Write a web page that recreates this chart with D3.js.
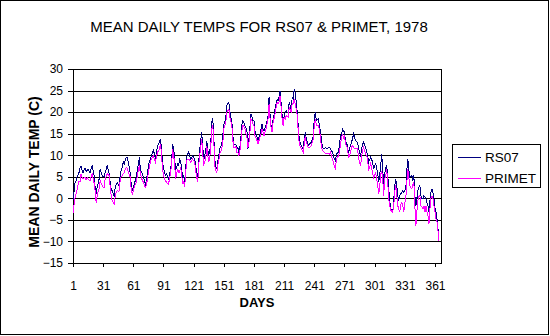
<!DOCTYPE html>
<html><head><meta charset="utf-8">
<script src="https://cdn.jsdelivr.net/npm/d3@7"></script>
<style>
body{margin:0;background:#fff}
svg{display:block}
text{font-family:"Liberation Sans",Arial,sans-serif;fill:#000}
</style>
</head><body>
<svg id="chart" width="550" height="336"></svg>
<script>
const chartTitle = "MEAN DAILY TEMPS FOR RS07 & PRIMET, 1978";
const xTitle = "DAYS";
const yTitle = "MEAN DAILY TEMP (C)";
const seriesNames = ["RS07", "PRIMET"];
const seriesColors = ["#000080", "#FF00FF"];
const xTickLabels = [1, 31, 61, 91, 121, 151, 181, 211, 241, 271, 301, 331, 361];
const yTickValues = [-15, -10, -5, 0, 5, 10, 15, 20, 25, 30];

const rs07 = [
-0.5,1.5,3.5,4.0,5.0,5.5,6.0,7.0,7.4,6.5,
6.0,6.5,7.0,6.2,6.5,6.8,6.3,6.0,6.8,7.6,
6.5,5.3,2.7,1.0,2.6,3.5,4.5,6.8,6.0,5.3,
5.0,5.1,6.0,6.8,7.6,6.5,5.7,3.7,2.0,1.8,
1.0,0.6,2.6,3.3,3.7,3.3,2.9,5.6,6.5,7.2,
8.4,7.7,9.1,9.5,9.5,8.4,7.0,5.7,3.0,1.8,
2.6,3.3,4.2,4.9,6.8,8.0,9.5,6.8,6.2,5.7,
5.0,4.1,3.3,4.1,5.8,7.6,8.5,9.1,9.9,10.5,
11.5,10.0,9.1,10.3,12.2,12.6,13.0,13.8,11.5,8.4,
7.0,6.0,5.3,5.7,5.0,4.5,5.5,6.8,8.4,12.6,
11.5,9.9,6.4,7.2,8.0,7.6,9.1,8.7,7.2,4.5,
5.5,3.7,6.8,9.5,10.3,10.7,9.9,9.1,9.5,9.9,
9.5,9.1,7.5,6.4,4.5,8.4,11.0,13.4,15.3,12.2,
8.7,9.9,11.1,13.4,11.5,9.9,11.0,12.6,17.6,18.6,
14.5,9.1,7.5,6.8,8.4,10.0,11.5,12.0,12.6,14.5,
17.2,17.8,18.8,21.5,21.9,22.3,20.3,18.8,17.6,14.5,
12.6,12.4,12.4,11.5,11.8,10.3,12.0,14.2,17.2,18.0,
17.5,16.9,16.3,15.7,11.5,13.8,16.5,19.6,19.0,18.0,
18.0,15.7,15.0,14.2,13.4,14.2,14.9,16.0,17.2,16.1,
15.7,16.3,16.9,18.0,19.2,23.4,19.2,17.0,15.7,18.4,
19.5,20.7,21.9,23.0,22.7,23.5,25.0,22.0,19.2,17.2,
19.2,19.8,20.3,20.0,20.0,22.3,21.5,20.7,23.4,23.0,
25.4,24.6,22.3,20.0,16.9,13.8,12.8,12.2,11.8,11.5,
13.8,15.3,13.8,13.0,12.2,12.6,12.8,13.0,13.8,14.5,
18.8,20.0,18.0,18.2,18.4,16.9,15.5,13.8,11.8,11.6,
11.5,11.8,11.6,11.5,11.7,11.8,11.5,11.1,10.7,10.0,
9.1,8.7,10.3,10.5,10.7,12.2,14.5,14.5,16.1,15.7,
15.3,13.4,12.8,12.2,10.3,11.5,12.2,13.0,13.8,14.9,
14.2,13.4,13.2,13.0,11.8,10.5,9.9,11.5,12.6,13.0,
12.4,11.8,10.8,9.9,8.4,9.0,9.5,9.0,8.4,6.8,
7.5,8.0,7.0,6.0,3.7,5.5,7.5,10.3,7.0,2.6,
5.7,7.0,7.6,5.3,2.2,-0.5,-2.5,-2.8,-3.2,-0.5,
3.0,4.5,3.0,0.6,-0.5,0.6,1.0,1.4,1.8,1.4,
1.8,2.2,6.4,9.1,6.8,4.9,5.0,5.3,4.1,5.3,
0.6,-1.7,-0.1,1.8,2.5,3.0,0.6,0.0,-0.1,0.6,
0.3,-0.1,-1.0,-1.7,-3.2,-0.5,1.5,2.2,1.4,-0.1,
-2.1,-3.2,-4.8,-7.1,-8.5
];

const primet = [
-3.5,-1.5,0.0,1.0,2.0,3.0,4.0,3.8,5.7,5.0,
4.5,4.8,5.0,4.3,4.8,4.5,4.2,4.1,5.0,5.7,
4.5,3.6,1.8,-1.0,0.6,1.5,2.2,4.1,3.5,3.1,
2.5,2.6,4.5,5.0,5.7,5.5,5.3,2.6,0.5,-0.5,
-1.0,-1.3,0.6,1.4,1.8,1.6,1.8,4.5,5.0,5.3,
5.7,6.0,6.8,7.2,7.0,6.0,5.5,4.9,1.8,1.0,
1.8,2.6,3.2,3.7,5.3,6.5,7.6,5.7,4.8,4.1,
3.8,3.0,2.6,3.0,4.5,6.0,7.2,8.4,9.1,9.5,
9.9,9.0,8.4,9.5,10.7,11.0,11.5,12.6,10.3,6.8,
5.5,4.5,4.1,3.7,3.5,3.3,4.5,6.0,7.6,11.5,
10.0,8.4,4.5,5.5,6.8,6.0,6.0,7.2,5.7,3.3,
4.0,2.6,5.7,8.7,9.1,9.1,8.8,8.4,8.7,9.1,
8.7,8.4,6.4,4.9,3.7,7.6,9.9,11.8,13.8,10.3,
7.6,8.5,9.1,12.2,10.0,8.4,9.5,11.8,16.1,16.9,
13.8,7.6,6.5,6.0,7.6,8.8,10.3,10.9,11.5,13.0,
16.1,16.8,17.6,20.0,20.5,20.7,18.8,17.8,16.9,13.4,
11.8,11.8,12.0,10.7,10.7,9.9,11.0,13.0,15.7,16.9,
16.5,16.1,15.0,14.2,11.8,13.0,15.5,18.4,18.0,17.2,
16.9,14.5,14.0,13.4,12.6,13.4,14.2,15.0,16.1,15.3,
14.5,15.5,16.1,17.2,18.4,21.9,18.4,16.5,15.3,17.6,
18.6,19.6,21.1,22.3,21.9,22.5,23.8,21.0,18.4,16.9,
18.8,18.4,19.2,19.0,18.8,21.1,20.5,19.9,21.9,21.9,
23.0,22.0,20.7,19.2,15.7,12.6,12.0,11.5,11.1,10.7,
12.6,14.5,13.0,12.5,11.8,11.8,12.0,12.2,13.0,13.8,
16.9,18.4,16.9,16.9,16.9,16.1,14.2,12.2,11.1,10.9,
10.7,10.3,10.5,10.3,10.4,10.3,10.7,9.9,9.1,8.4,
7.2,6.8,9.1,9.5,9.9,10.7,12.5,13.8,14.9,14.0,
14.5,12.6,12.2,11.6,9.5,9.9,10.7,11.8,12.2,11.8,
11.5,11.5,11.5,11.5,9.5,8.4,7.6,9.5,11.1,11.8,
11.0,10.3,9.9,9.1,6.4,7.2,8.0,7.0,6.0,4.5,
5.5,6.0,4.5,3.3,1.0,2.6,5.5,6.4,4.5,0.6,
4.5,5.0,6.8,3.7,-0.2,-1.7,-2.8,-3.0,-3.2,-1.7,
1.4,3.0,0.6,-1.7,-2.5,-3.2,-1.5,-0.9,-1.7,-3.2,
-1.0,-0.1,3.7,6.8,4.9,3.0,2.5,2.2,3.3,3.7,
-1.7,-6.3,-3.2,-0.5,0.5,0.6,-1.7,-2.0,-2.5,-1.7,
-3.2,-1.7,-3.0,-4.0,-5.9,-2.5,0.0,0.6,-0.1,-1.7,
-3.2,-4.8,-5.5,-7.5,-9.8
];

const series = [rs07, primet];
const days = d3.range(1, rs07.length + 1);

const W = 550, H = 336;
const plot = {left: 73, right: 441, top: 69, bottom: 263};

const svg = d3.select("#chart");

// outer frame
svg.append("rect").attr("x", 0.5).attr("y", 0.5).attr("width", 548).attr("height", 334)
  .attr("fill", "#fff").attr("stroke", "#000").attr("shape-rendering", "crispEdges");

const x = d3.scaleLinear().domain([1, 367]).range([plot.left, plot.right]);
const y = d3.scaleLinear().domain([-15, 30]).range([plot.bottom, plot.top]);

// gridlines
svg.append("g").selectAll("line").data(yTickValues.filter(v => v > -15)).join("line")
  .attr("x1", plot.left).attr("x2", plot.right + 1)
  .attr("y1", d => Math.round(y(d)) + 0.5).attr("y2", d => Math.round(y(d)) + 0.5)
  .attr("stroke", "#000").attr("shape-rendering", "crispEdges");

// plot border right
svg.append("line").attr("x1", plot.right + 0.5).attr("x2", plot.right + 0.5)
  .attr("y1", plot.top).attr("y2", plot.bottom + 1)
  .attr("stroke", "#000").attr("shape-rendering", "crispEdges");

// axes
const yAxis = d3.axisLeft(y).tickValues(yTickValues).tickSize(5).tickPadding(5).tickSizeOuter(0);
const gy = svg.append("g").attr("transform", `translate(${plot.left},0)`).call(yAxis);
const xAxis = d3.axisBottom(x).tickValues(xTickLabels).tickSize(4).tickPadding(14).tickSizeOuter(0);
const gx = svg.append("g").attr("transform", `translate(0,${plot.bottom})`).call(xAxis);
[gx, gy].forEach(g => {
  g.selectAll("path,line").attr("stroke", "#000").attr("shape-rendering", "crispEdges");
  g.selectAll("text").attr("font-size", 12).attr("font-family", '"Liberation Sans",Arial,sans-serif').attr("fill", "#000");
});

// series lines
const line = d3.line().x((d, i) => x(days[i])).y(d => y(d));
series.forEach((s, k) => {
  svg.append("path").datum(s).attr("d", line)
    .attr("fill", "none").attr("stroke", seriesColors[k]).attr("stroke-width", 1)
    .attr("shape-rendering", "crispEdges");
});

// titles
svg.append("text").attr("x", 259).attr("y", 31.5).attr("text-anchor", "middle")
  .attr("font-size", 15).text(chartTitle);
svg.append("text").attr("x", 257).attr("y", 307).attr("text-anchor", "middle")
  .attr("font-size", 13).attr("font-weight", "bold").text(xTitle);
svg.append("text").attr("transform", "translate(39,172) rotate(-90)").attr("text-anchor", "middle")
  .attr("font-size", 14).attr("font-weight", "bold").text(yTitle);

// legend
const lg = svg.append("g");
lg.append("rect").attr("x", 452.5).attr("y", 144.5).attr("width", 88).attr("height", 43)
  .attr("fill", "#fff").attr("stroke", "#000").attr("shape-rendering", "crispEdges");
seriesNames.forEach((n, k) => {
  const yy = 156.5 + k * 21.5;
  lg.append("line").attr("x1", 458).attr("x2", 481).attr("y1", Math.round(yy) + 0.5).attr("y2", Math.round(yy) + 0.5)
    .attr("stroke", seriesColors[k]).attr("shape-rendering", "crispEdges");
  lg.append("text").attr("x", 485).attr("y", yy + 5).attr("font-size", 13.5).text(n);
});
</script>
</body></html>
